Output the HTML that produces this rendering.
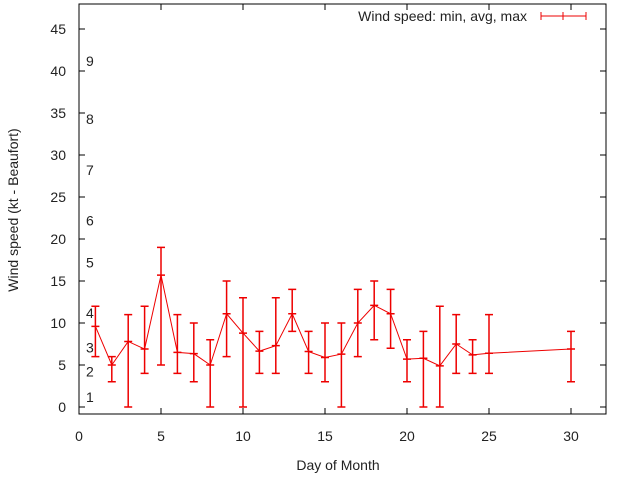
<!DOCTYPE html>
<html><head><meta charset="utf-8"><style>
body{margin:0;background:#fff}
svg{display:block;font-family:"Liberation Sans",sans-serif;font-size:14px}
</style></head><body>
<svg id="c" width="640" height="480">
<text x="338" y="470" text-anchor="middle" fill="#222">Day of Month</text>
<text transform="translate(18,210) rotate(-90)" text-anchor="middle" fill="#222">Wind speed (kt - Beaufort)</text>
<g id="ax"></g><g id="marks"></g>
<rect x="79" y="4" width="527" height="410" fill="none" stroke="#000"/>
<g>
<text x="527" y="21" text-anchor="end" fill="#222">Wind speed: min, avg, max</text>
<g stroke="#e00"><line x1="541" y1="16" x2="586" y2="16"/><line x1="541" y1="12" x2="541" y2="20"/><line x1="586" y1="12" x2="586" y2="20"/><line x1="563" y1="12" x2="563" y2="20"/></g>
</g>
</svg>
<script>
const days=[1,2,3,4,5,6,7,8,9,10,11,12,13,14,15,16,17,18,19,20,21,22,23,24,25,30];
const avgs=[9.6,5.0,7.8,6.9,15.7,6.5,6.35,5.0,11.1,8.8,6.65,7.3,11.1,6.6,5.9,6.3,10.0,12.1,11.1,5.7,5.8,4.9,7.5,6.2,6.4,6.9];
const mins=[6,3,0,4,5,4,3,0,6,0,4,4,9,4,3,0,6,8,7,3,0,0,4,4,4,3];
const maxs=[12,6,11,12,19,11,10,8,15,13,9,13,14,9,10,10,14,15,14,8,9,12,11,8,11,9];
const xTicks=[0,5,10,15,20,25,30];
const yTicks=[0,5,10,15,20,25,30,35,40,45];
const beaufort=[1,2,3,4,5,6,7,8,9];
const beaufortKt=[1.2,4.2,7.1,11.2,17.2,22.2,28.2,34.3,41.2];
const NS="http://www.w3.org/2000/svg";
const X=v=>79+v*16.4, Y=v=>407-v*8.4;
const ax=document.getElementById('ax'), mk=document.getElementById('marks');
function el(t,a,p){const e=document.createElementNS(NS,t);for(const k in a)e.setAttribute(k,a[k]);p.appendChild(e);return e;}
xTicks.forEach(t=>{
 const l=el('path',{d:`M${X(t)},414v-6M${X(t)},4v6`,stroke:'#000'},ax);
 
 
 const tx=el('text',{x:X(t),y:441,'text-anchor':'middle',fill:'#222'},ax);tx.textContent=t;
 
 
});
yTicks.forEach(t=>{
 const l=el('path',{d:`M79,${Y(t)}h6M606,${Y(t)}h-6`,stroke:'#000'},ax);
 
 
 const tx=el('text',{x:66,y:Y(t)+5,'text-anchor':'end',fill:'#222'},ax);tx.textContent=t;
 
 
});
beaufort.forEach((b,i)=>{
 const tx=el('text',{x:86,y:Y(beaufortKt[i])+5,fill:'#222'},ax);tx.textContent=b;
 
 
});
const line=el('polyline',{points:days.map((d,i)=>X(d)+','+Y(avgs[i])).join(' '),fill:'none',stroke:'#e00'},mk);


days.forEach((d,i)=>{
 const x=X(d);
 const g=el('path',{d:`M${x},${Y(mins[i])}V${Y(maxs[i])}M${x-4},${Y(mins[i])}h8M${x-4},${Y(maxs[i])}h8M${x-4},${Y(avgs[i])}h8`,stroke:'#e00','stroke-width':1.5,fill:'none'},mk);
 
 
});
</script>
</body></html>
